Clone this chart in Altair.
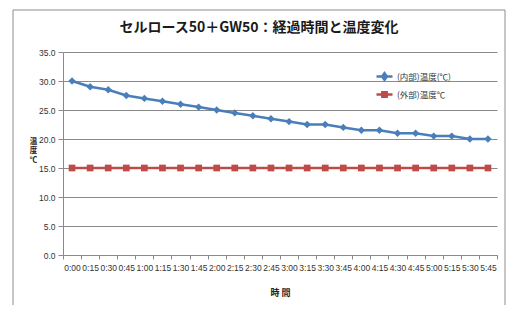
import altair as alt
import pandas as pd

times = ["0:00", "0:15", "0:30", "0:45", "1:00", "1:15", "1:30", "1:45",
         "2:00", "2:15", "2:30", "2:45", "3:00", "3:15", "3:30", "3:45",
         "4:00", "4:15", "4:30", "4:45", "5:00", "5:15", "5:30", "5:45"]
inner = [30.0, 29.0, 28.5, 27.5, 27.0, 26.5, 26.0, 25.5, 25.0, 24.5, 24.0, 23.5,
         23.0, 22.5, 22.5, 22.0, 21.5, 21.5, 21.0, 21.0, 20.5, 20.5, 20.0, 20.0]
outer = [15.0, 15.0, 15.0, 15.0, 15.0, 15.0, 15.0, 15.0, 15.0, 15.0, 15.0, 15.0,
         15.0, 15.0, 15.0, 15.0, 15.0, 15.0, 15.0, 15.0, 15.0, 15.0, 15.0, 15.0]
series = ["(内部)温度(℃)", "(外部)温度℃"]
colors = ["#4A7EBB", "#BE4B48"]
y_ticks = [0, 5, 10, 15, 20, 25, 30, 35]
title_text = "セルロース50＋GW50：経過時間と温度変化"

rows = []
for i, t in enumerate(times):
    rows.append({"time": t, "temp": inner[i], "series": series[0]})
    rows.append({"time": t, "temp": outer[i], "series": series[1]})
df = pd.DataFrame(rows)

LBL_FONT = "Liberation Sans"
CJK = "Noto Sans CJK JP"

x_enc = alt.X("time:O", sort=times,
              scale=alt.Scale(type="band", paddingInner=0, paddingOuter=0),
              axis=alt.Axis(title="時 間", labelAngle=0, tickBand="extent", grid=False,
                            domainColor="#8a8a8a", tickColor="#8a8a8a", tickSize=4,
                            labelFont=LBL_FONT, labelFontSize=8.5, labelColor="#333333",
                            labelPadding=4, titleFont=CJK, titleFontSize=9,
                            titleFontWeight="bold", titleColor="#222222",
                            titleY=37, titleBaseline="middle"))
y_enc = alt.Y("temp:Q", scale=alt.Scale(domain=[0, 35], nice=False),
              axis=alt.Axis(values=y_ticks, format=".1f", title=["温", "度", "℃"],
                            titleAngle=0, titleX=-30, titleY=85, titleAlign="center",
                            titleBaseline="top", titleLineHeight=9.5,
                            titleFont=CJK, titleFontSize=7.5, titleFontWeight="bold",
                            titleColor="#222222",
                            grid=True, gridColor="#8a8a8a", domainColor="#8a8a8a",
                            tickColor="#8a8a8a", tickSize=5, labelPadding=3,
                            labelFont=LBL_FONT, labelFontSize=8.5, labelColor="#333333"))

color_scale = alt.Scale(domain=series, range=colors)

lines = alt.Chart(df).mark_line(strokeWidth=2.5).encode(
    x=x_enc, y=y_enc,
    color=alt.Color("series:N", sort=series, scale=color_scale, legend=None),
    detail="series:N")
points = alt.Chart(df).mark_point(filled=True, opacity=1).encode(
    x=x_enc, y=y_enc,
    color=alt.Color("series:N", sort=series, scale=color_scale, legend=None),
    shape=alt.Shape("series:N", sort=series,
                    scale=alt.Scale(domain=series, range=["diamond", "square"]), legend=None),
    size=alt.Size("series:N", sort=series,
                  scale=alt.Scale(domain=series, range=[55, 45]), legend=None))

legend_paths = ["M-1,0L1,0M0,-0.42L0.3,0L0,0.42L-0.3,0Z",
                "M-1,0L1,0M-0.27,-0.27L0.27,-0.27L0.27,0.27L-0.27,0.27Z"]


def legend_layer(i, ly):
    return alt.Chart(df).transform_filter("false").mark_point(
        filled=False, opacity=1, color=colors[i], strokeWidth=2.5).encode(
        x=x_enc, y=y_enc,
        shape=alt.Shape("series:N", scale=alt.Scale(domain=[series[i]], range=[legend_paths[i]]),
                        legend=alt.Legend(title=None, orient="none", legendX=312, legendY=ly,
                                          symbolSize=256, symbolStrokeWidth=2.5,
                                          symbolFillColor=colors[i], symbolStrokeColor=colors[i],
                                          symbolOpacity=1,
                                          labelFont=CJK, labelFontSize=8.5,
                                          labelColor="#333333", labelOffset=3)))


frame = alt.Chart(pd.DataFrame({"a": [0]})).mark_rect(
    fill=None, stroke="#8c8c8c", strokeWidth=1).encode(
    x=alt.value(-50), x2=alt.value(442), y=alt.value(-42), y2=alt.value(260))

title = alt.Chart(pd.DataFrame({"t": [title_text]})).mark_text(
    font=CJK, fontSize=14, fontWeight="bold", color="#1a1a1a",
    align="center", baseline="middle").encode(
    text="t:N", x=alt.value(196), y=alt.value(-24))

chart = alt.layer(frame, lines, points, legend_layer(0, 15), legend_layer(1, 33),
                  title).resolve_scale(
    shape="independent", size="independent").properties(
    width=434, height=203,
    autosize=alt.AutoSizeParams(type="none"),
    padding={"left": 55, "top": 44, "right": 10, "bottom": 50},
).configure_view(strokeWidth=0)

chart.save("out.html", embed_options={"renderer": "svg", "actions": False})
